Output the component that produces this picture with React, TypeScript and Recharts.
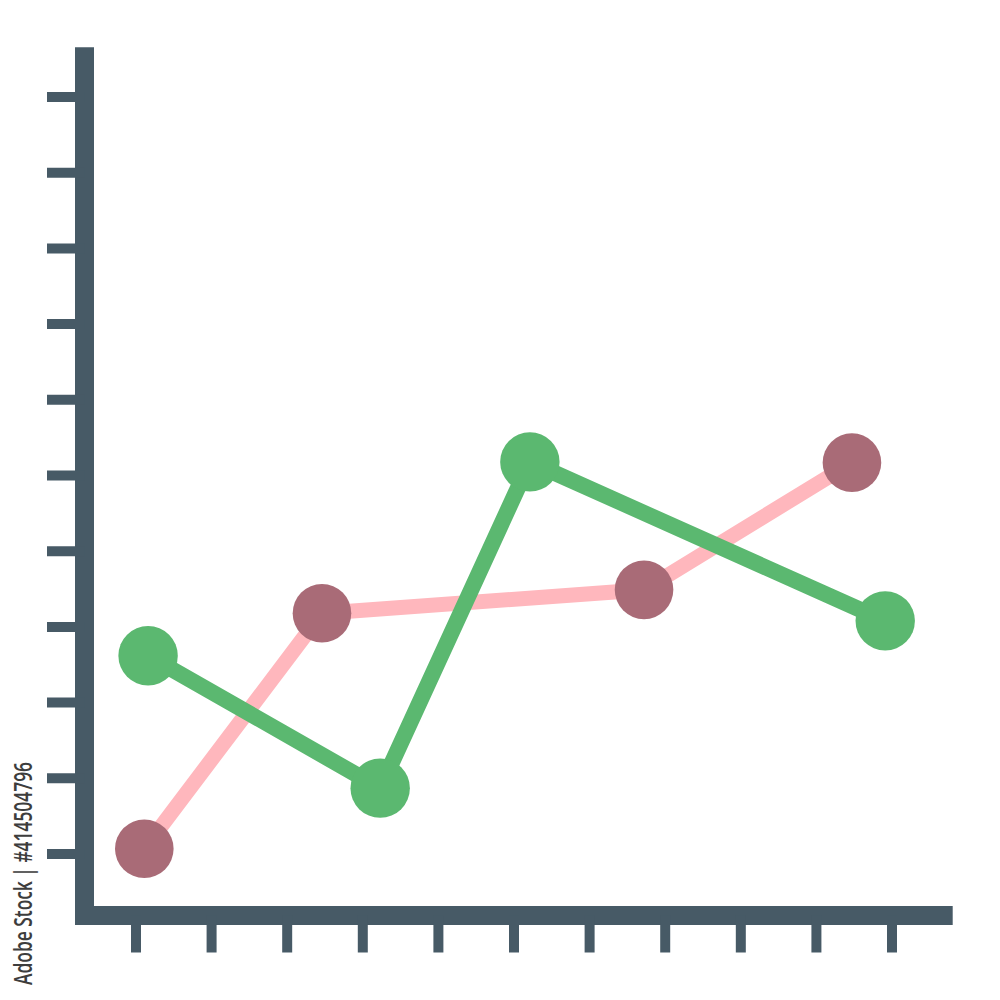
import * as React from "react"
import { LineChart, Line, XAxis, YAxis } from "recharts"

// ─── Colors ──────────────────────────────────────────────────────────────────
const AXIS_COLOR = "#475a66"
const PINK_LINE = "#ffb7bd"
const PINK_DOT = "#a96b77"
const GREEN = "#5bb870"

// ─── Data (in tick units) ────────────────────────────────────────────────────
const xTicks = [0, 1, 2, 3, 4, 5, 6, 7, 8, 9, 10]
const yTicks = [0, 1, 2, 3, 4, 5, 6, 7, 8, 9, 10]

const pinkX = [0.11, 2.46, 6.72, 9.47]
const pinkY = [0.07, 3.18, 3.49, 5.17]

const greenX = [0.16, 3.23, 5.21, 9.91]
const greenY = [2.62, 0.87, 5.18, 3.08]

const pinkData = pinkX.map((x, i) => ({ x, y: pinkY[i] }))
const greenData = greenX.map((x, i) => ({ x, y: greenY[i] }))

const WATERMARK = "Adobe Stock | #414504796"

// tick marks only, no labels
function NoLabel() {
  return <g />
}

export default function App() {
  return (
    <div style={{ position: "absolute", left: 0, top: 0, width: 1000, height: 1000, background: "#fff" }}>
      <LineChart
        width={1000}
        height={1000}
        margin={{ top: 56.8, right: 56.8, left: 0, bottom: 0 }}
      >
        <XAxis
          type="number"
          dataKey="x"
          domain={[-0.681, 10.677]}
          ticks={xTicks}
          allowDataOverflow
          height={84.5}
          tick={<NoLabel />}
          tickSize={37}
          tickLine={{ stroke: AXIS_COLOR, strokeWidth: 10 }}
          axisLine={{ stroke: AXIS_COLOR, strokeWidth: 19, strokeLinecap: "square" }}
        />
        <YAxis
          type="number"
          dataKey="y"
          domain={[-0.812, 10.531]}
          ticks={yTicks}
          allowDataOverflow
          width={84.5}
          tick={<NoLabel />}
          tickSize={37.5}
          tickLine={{ stroke: AXIS_COLOR, strokeWidth: 10 }}
          axisLine={{ stroke: AXIS_COLOR, strokeWidth: 19, strokeLinecap: "square" }}
        />
        <Line
          data={pinkData}
          dataKey="y"
          type="linear"
          stroke={PINK_LINE}
          strokeWidth={15}
          dot={{ r: 29.3, fill: PINK_DOT, stroke: "none", strokeWidth: 0 }}
          activeDot={false}
          isAnimationActive={false}
        />
        <Line
          data={greenData}
          dataKey="y"
          type="linear"
          stroke={GREEN}
          strokeWidth={16}
          dot={{ r: 29.7, fill: GREEN, stroke: "none", strokeWidth: 0 }}
          activeDot={false}
          isAnimationActive={false}
        />
      </LineChart>
      {/* vertical watermark credit */}
      <svg
        width={1000}
        height={1000}
        style={{ position: "absolute", left: 0, top: 0, pointerEvents: "none" }}
      >
        <text
          transform="translate(32, 985) rotate(-90)"
          x={0}
          y={0}
          fontFamily="Open Sans"
          fontSize={26}
          fontWeight={600}
          fill="#3d3d3d"
          textLength={223}
          lengthAdjust="spacingAndGlyphs"
        >
          {WATERMARK}
        </text>
      </svg>
    </div>
  )
}
